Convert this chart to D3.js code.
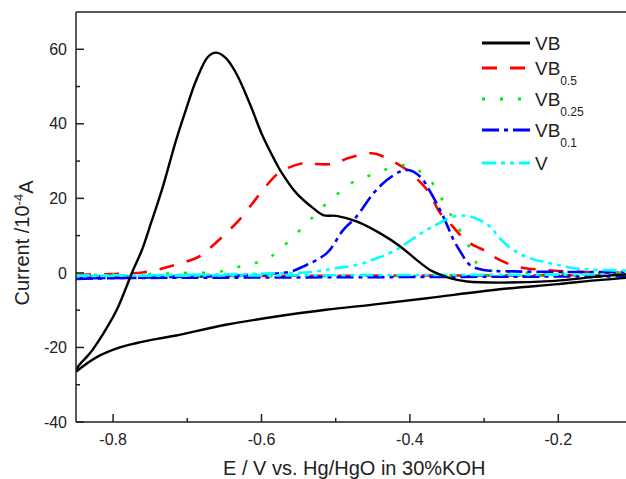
<!DOCTYPE html>
<html>
<head>
<meta charset="utf-8">
<script src="https://cdn.jsdelivr.net/npm/d3@7"></script>
<style>
  body { margin: 0; background: #fff; }
  text { font-family: "Liberation Sans", Arial, sans-serif; fill: #222; }
</style>
</head>
<body>
<div id="chart"></div>
<script>
// E (V) vs current (10^-4 A), forward scan then reverse scan
var vbForward = [[-0.850,-26.5],[-0.847,-25.1],[-0.831,-21.5],[-0.813,-16.2],[-0.795,-9.9],[-0.782,-3.7],[-0.773,0.8],[-0.761,6.2],[-0.752,11.5],[-0.733,23.1],[-0.715,35.7],[-0.702,43.7],[-0.688,51.7],[-0.672,58.0],[-0.661,59.1],[-0.648,57.6],[-0.634,53.5],[-0.616,45.5],[-0.598,36.5],[-0.580,29.4],[-0.575,27.6],[-0.553,21.4],[-0.530,17.3],[-0.517,15.5],[-0.499,15.3],[-0.472,13.8],[-0.440,10.6],[-0.413,7.1],[-0.391,3.5],[-0.373,0.8],[-0.368,0.3],[-0.346,-1.4],[-0.323,-2.3],[-0.279,-2.6],[-0.211,-2.2],[-0.167,-1.4],[-0.126,-0.6],[-0.100,-0.4]];
var vbReverse = [[-0.100,-1.2],[-0.150,-2.0],[-0.200,-3.0],[-0.279,-4.4],[-0.377,-6.8],[-0.450,-8.5],[-0.513,-9.9],[-0.580,-11.7],[-0.648,-13.9],[-0.715,-16.8],[-0.738,-17.6],[-0.768,-18.8],[-0.791,-20.0],[-0.822,-22.6],[-0.850,-26.5]];

var vb05Forward = [[-0.850,-0.5],[-0.800,-0.3],[-0.760,0.1],[-0.724,1.7],[-0.684,4.4],[-0.670,6.6],[-0.648,10.6],[-0.630,14.2],[-0.612,18.7],[-0.598,22.3],[-0.580,26.3],[-0.571,27.6],[-0.539,29.6],[-0.526,29.2],[-0.499,29.4],[-0.485,30.7],[-0.454,32.1],[-0.445,31.9],[-0.418,29.4],[-0.404,27.6],[-0.377,22.3],[-0.359,16.0],[-0.346,13.3],[-0.323,8.4],[-0.296,5.7],[-0.283,3.9],[-0.256,1.7],[-0.220,0.8],[-0.144,0.1],[-0.100,0.1]];
var vb05Reverse = [[-0.100,-0.6],[-0.850,-0.9]];

var vb025Forward = [[-0.850,-0.6],[-0.750,-0.3],[-0.700,0.0],[-0.657,0.3],[-0.633,1.5],[-0.609,2.6],[-0.584,4.8],[-0.562,8.8],[-0.539,13.3],[-0.517,17.8],[-0.494,21.8],[-0.472,24.9],[-0.445,26.7],[-0.422,28.5],[-0.400,28.7],[-0.373,24.9],[-0.359,20.5],[-0.346,16.0],[-0.333,11.5],[-0.319,6.6],[-0.306,1.7],[-0.274,0.3],[-0.200,0.0],[-0.100,0.0]];
var vb025Reverse = [[-0.100,-0.7],[-0.850,-1.0]];

var vb01Forward = [[-0.850,-1.6],[-0.750,-1.2],[-0.650,-0.8],[-0.600,-0.4],[-0.562,0.3],[-0.544,1.7],[-0.512,5.3],[-0.490,11.5],[-0.472,15.1],[-0.449,21.4],[-0.431,24.9],[-0.413,27.2],[-0.402,27.6],[-0.386,25.8],[-0.373,21.9],[-0.355,15.1],[-0.341,8.8],[-0.332,5.7],[-0.319,2.1],[-0.301,0.8],[-0.260,0.4],[-0.100,0.2]];
var vb01Reverse = [[-0.100,-0.9],[-0.850,-1.4]];

var vForward = [[-0.850,-0.7],[-0.700,-0.5],[-0.600,-0.2],[-0.530,0.3],[-0.499,1.3],[-0.472,2.1],[-0.445,3.9],[-0.418,6.2],[-0.395,9.3],[-0.373,12.0],[-0.341,15.1],[-0.323,15.3],[-0.306,14.2],[-0.292,12.4],[-0.279,9.3],[-0.261,6.2],[-0.238,3.9],[-0.211,2.6],[-0.180,1.3],[-0.144,0.8],[-0.100,0.6]];
var vReverse = [[-0.100,-0.4],[-0.850,-0.8]];

var xTicks = [-0.8, -0.6, -0.4, -0.2];
var xMinor = [-0.7, -0.5, -0.3, -0.1];
var yTicks = [-40, -20, 0, 20, 40, 60];
var yMinor = [-30, -10, 10, 30, 50];

var series = [
  {name: "VB", sub: "", color: "#000000", dash: null, data: [vbForward, vbReverse]},
  {name: "VB", sub: "0.5", color: "#ff0000", dash: "15,13", data: [vb05Forward, vb05Reverse]},
  {name: "VB", sub: "0.25", color: "#00ee00", dash: "3,15", data: [vb025Forward, vb025Reverse]},
  {name: "VB", sub: "0.1", color: "#0000ff", dash: "17,5,4,5", data: [vb01Forward, vb01Reverse]},
  {name: "V", sub: "", color: "#00ffff", dash: "14,5,4,5,4,5", data: [vForward, vReverse]}
];

var width = 626, height = 479;
var plotLeft = 76, plotTop = 12, plotBottom = 422;
var x = d3.scaleLinear().domain([-0.85, -0.1]).range([plotLeft, plotLeft + 0.75 * 742]);
var y = d3.scaleLinear().domain([-40, 70]).range([plotBottom, plotTop]);

var svg = d3.select("#chart").append("svg")
  .attr("width", width)
  .attr("height", height);

svg.append("defs").append("clipPath").attr("id", "plot")
  .append("rect")
  .attr("x", plotLeft).attr("y", plotTop)
  .attr("width", x(-0.1) - plotLeft).attr("height", plotBottom - plotTop);

var line = d3.line()
  .x(function(d) { return x(d[0]); })
  .y(function(d) { return y(d[1]); })
  .curve(d3.curveCatmullRom.alpha(0.5));

var plot = svg.append("g").attr("clip-path", "url(#plot)");

// draw coloured curves first, black on top
series.slice(1).concat(series.slice(0, 1)).forEach(function(s) {
  s.data.forEach(function(branch) {
    plot.append("path")
      .attr("d", line(branch))
      .attr("fill", "none")
      .attr("stroke", s.color)
      .attr("stroke-width", s.dash ? 2.6 : 2.4)
      .attr("stroke-dasharray", s.dash);
  });
});

// axes, ticks pointing inward
var axis = svg.append("g").attr("stroke", "#222").attr("stroke-width", 1.5);
axis.append("line").attr("x1", plotLeft).attr("x2", plotLeft).attr("y1", plotTop).attr("y2", plotBottom);
axis.append("line").attr("x1", plotLeft).attr("x2", width).attr("y1", plotBottom).attr("y2", plotBottom);
axis.append("line").attr("x1", plotLeft).attr("x2", width).attr("y1", plotTop).attr("y2", plotTop);

axis.selectAll(".xt").data(xTicks).enter().append("line")
  .attr("x1", function(d) { return x(d); }).attr("x2", function(d) { return x(d); })
  .attr("y1", plotBottom).attr("y2", plotBottom - 8);
axis.selectAll(".xm").data(xMinor).enter().append("line")
  .attr("x1", function(d) { return x(d); }).attr("x2", function(d) { return x(d); })
  .attr("y1", plotBottom).attr("y2", plotBottom - 4);
axis.selectAll(".yt").data(yTicks).enter().append("line")
  .attr("x1", plotLeft).attr("x2", plotLeft + 8)
  .attr("y1", function(d) { return y(d); }).attr("y2", function(d) { return y(d); });
axis.selectAll(".ym").data(yMinor).enter().append("line")
  .attr("x1", plotLeft).attr("x2", plotLeft + 4)
  .attr("y1", function(d) { return y(d); }).attr("y2", function(d) { return y(d); });

svg.selectAll(".xl").data(xTicks).enter().append("text")
  .attr("x", function(d) { return x(d); })
  .attr("y", 445)
  .attr("text-anchor", "middle")
  .style("font-size", "16px")
  .text(function(d) { return d.toFixed(1); });

svg.selectAll(".yl").data(yTicks).enter().append("text")
  .attr("x", 67)
  .attr("y", function(d) { return y(d); })
  .attr("dy", "0.35em")
  .attr("text-anchor", "end")
  .style("font-size", "16px")
  .text(function(d) { return d; });

svg.append("text")
  .attr("x", (plotLeft + x(-0.1)) / 2)
  .attr("y", 475)
  .attr("text-anchor", "middle")
  .style("font-size", "20px")
  .text("E / V vs. Hg/HgO in 30%KOH");

var yt = svg.append("text")
  .attr("transform", "translate(29,243) rotate(-90)")
  .attr("text-anchor", "middle")
  .style("font-size", "20px");
yt.append("tspan").text("Current /10");
yt.append("tspan").attr("dy", "-0.5em").style("font-size", "13px").text("-4");
yt.append("tspan").attr("dy", "0.5em").text("A");

// legend
var legendY = [43, 68, 99, 130, 163];
var legend = svg.selectAll(".lg").data(series).enter().append("g")
  .attr("transform", function(d, i) { return "translate(482," + legendY[i] + ")"; });

legend.append("line")
  .attr("x1", 0).attr("x2", 48)
  .attr("stroke", function(d) { return d.color; })
  .attr("stroke-width", 2.8)
  .attr("stroke-dasharray", function(d) { return d.dash; });

var lt = legend.append("text")
  .attr("x", 53)
  .attr("y", 7)
  .style("font-size", "19px");
lt.append("tspan").text(function(d) { return d.name; });
lt.append("tspan")
  .attr("dy", 10)
  .style("font-size", "12px")
  .text(function(d) { return d.sub; });
</script>
</body>
</html>
